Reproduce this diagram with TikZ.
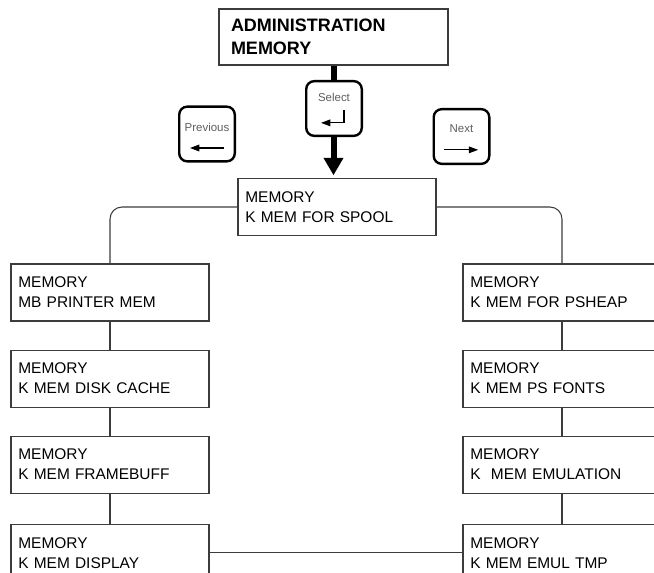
\documentclass[tikz,border=0pt]{standalone}
\usepackage{fontspec}
\setmainfont{Liberation Sans}
\usetikzlibrary{arrows.meta,positioning}
\definecolor{Mline}{RGB}{60,60,60}
\definecolor{Mkey}{RGB}{95,95,95}
\tikzset{
  flow/.style={-{Triangle[length=13pt,width=14pt]}, line width=4.5pt, draw=black},
  link/.style={draw=Mline, line width=0.8pt, rounded corners=9pt},
  menubox/.style={draw=Mline, line width=0.8pt, fill=white, minimum width=148.5pt, minimum height=42.75pt, text width=137.5pt, inner xsep=5.5pt, align=left, font=\fontsize{11.6}{15}\selectfont},
  titlebox/.style={draw=Mline, line width=0.8pt, fill=white, minimum width=171.75pt, minimum height=42pt, text width=153.75pt, inner xsep=9pt, align=left, font=\fontsize{13.5}{17.25}\selectfont\bfseries},
  keybox/.style={draw=black, line width=1.8pt, rounded corners=6pt, fill=white, minimum width=41.7pt, minimum height=41pt},
  keytext/.style={text=Mkey, font=\fontsize{8.6}{9}\selectfont, anchor=base, inner sep=0pt},
  keyarrow/.style={-{Triangle[length=7pt,width=5pt]}, line width=0.8pt}
}
\begin{document}
\begin{tikzpicture}[x=0.75pt, y=-0.75pt, node distance=21pt]
  \useasboundingbox (0,0) rectangle (654,572);
  \node[titlebox] (admin) at (333.5,37) {ADMINISTRATION\\MEMORY};
  \node[menubox] (spool) at (337,207) {MEMORY\\K MEM FOR SPOOL};
  \draw[flow, shorten >=2pt] (admin.south) -- (admin.south |- spool.north);
  % keys
  \node[keybox] (prevkey) at (207,134) {};
  \node[keybox] (selkey) at (334,108.5) {};
  \node[keybox] (nextkey) at (461.5,136.5) {};
  \node[keytext] (prevlabel) at ([yshift=2.25pt]prevkey.center) {Previous};
  \node[keytext] (sellabel) at ([yshift=4.9pt]selkey.center) {Select};
  \node[keytext] (nextlabel) at ([yshift=3pt]nextkey.center) {Next};
  \draw[keyarrow] ([shift={(12.75pt,-10.5pt)}]prevkey.center) -- ++(-25.5pt,0);
  \draw[keyarrow] ([shift={(7.5pt,-1pt)}]selkey.center) |- ++(-17.25pt,-9.75pt);
  \draw[keyarrow] ([shift={(-13pt,-10pt)}]nextkey.center) -- ++(25.5pt,0);
  % left column
  \node[menubox] (printer) at (110,292.5) {MEMORY\\MB PRINTER MEM};
  \node[menubox, below=of printer] (diskcache) {MEMORY\\K MEM DISK CACHE};
  \node[menubox, below=of diskcache] (framebuff) {MEMORY\\K MEM FRAMEBUFF};
  \node[menubox, below=22.5pt of framebuff] (display) {MEMORY\\K MEM DISPLAY};
  % right column
  \node[menubox] (psheap) at (562,292.5) {MEMORY\\K MEM FOR PSHEAP};
  \node[menubox, below=of psheap] (psfonts) {MEMORY\\K MEM PS FONTS};
  \node[menubox, below=of psfonts] (emulation) {MEMORY\\K\ \ MEM EMULATION};
  \node[menubox, below=22.5pt of emulation] (emultmp) {MEMORY\\K MEM EMUL TMP};
  \draw[link] (spool.west) -| (printer.north);
  \draw[link] (spool.east) -| (psheap.north);
  \draw[link] (printer) -- (diskcache);
  \draw[link] (diskcache) -- (framebuff);
  \draw[link] (framebuff) -- (display);
  \draw[link] (psheap) -- (psfonts);
  \draw[link] (psfonts) -- (emulation);
  \draw[link] (emulation) -- (emultmp);
  \draw[link] (display) -- (emultmp);
\end{tikzpicture}
\end{document}
